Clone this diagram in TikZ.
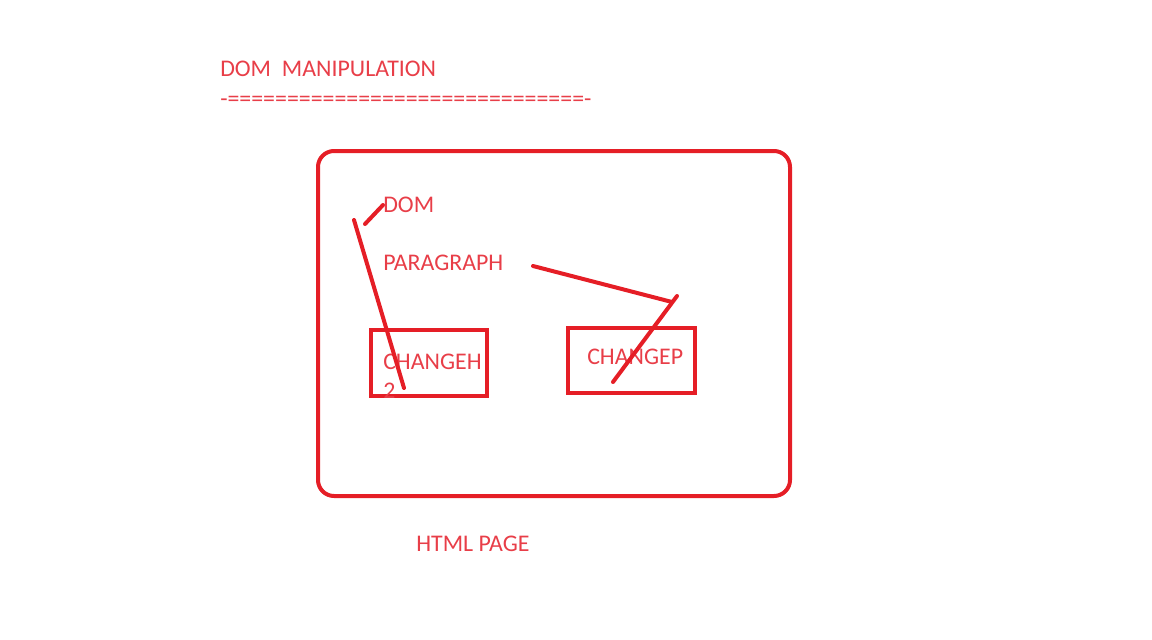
\documentclass[tikz,border=0pt]{standalone}
\usepackage{fontspec}
\setmainfont{Carlito}
\definecolor{penred}{RGB}{229,30,38}
\definecolor{inkred}{RGB}{232,62,72}

\begin{document}
\begin{tikzpicture}[x=0.75pt, y=-0.75pt]
    \tikzset{label text/.style={text=inkred, anchor=west, inner sep=0pt, align=left, font=\fontsize{17.9}{21.5}\selectfont},
             pen/.style={draw=penred, line width=3pt, line cap=round},
             change box/.style={draw=penred, line width=3pt}}
    \useasboundingbox (0,0) rectangle (1152,639);
    % heading
    \node[label text] (title) at (220,69) {DOM\ \ MANIPULATION};
    \node[label text] (rule) at (220,101) {-==============================-};
    % page frame
    \draw[pen, rounded corners=12pt] (318,151) rectangle (790,496);
    \node[label text] (page) at (416,544) {HTML PAGE};
    % inner texts
    \node[label text] (dom) at (383,205) {DOM};
    \node[label text] (para) at (383,263) {PARAGRAPH};
    \draw[change box] (371,330) rectangle (487,396);
    \node[label text, anchor=north west] (changeh) at (383,354) {CHANGEH\\2};
    \draw[change box] (568,328) rectangle (695,393);
    \node[label text] (changep) at (587,357) {CHANGEP};
    % pen strokes
    \coordinate (s1) at (365,224);
    \coordinate (s2) at (354,220);
    \coordinate (s3) at (404,388);
    \coordinate (s4) at (533,266);
    \coordinate (s5) at (672,302);
    \coordinate (s6) at (677,296);
    \coordinate (s7) at (613,382);
    \draw[pen] (s1) -- (dom.west);
    \draw[pen] (s2) -- (s3);
    \draw[pen] (s4) -- (s5);
    \draw[pen] (s6) -- (s7);
\end{tikzpicture}
\end{document}
